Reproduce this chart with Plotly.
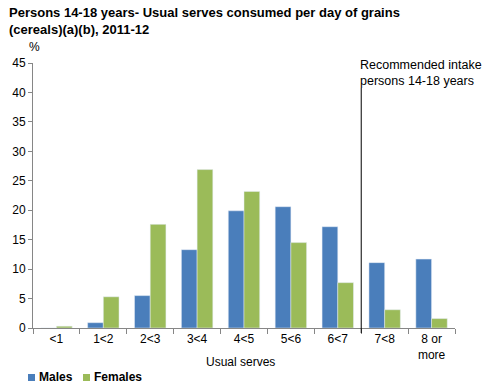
import plotly.graph_objects as go

# usual serves categories and % of persons
categories = ["<1", "1<2", "2<3", "3<4", "4<5", "5<6", "6<7", "7<8", "8 or<br>more"]
males = [0.0, 0.9, 5.5, 13.3, 19.9, 20.6, 17.2, 11.1, 11.7]
females = [0.3, 5.3, 17.6, 26.9, 23.2, 14.5, 7.7, 3.1, 1.6]
yticks = [0, 5, 10, 15, 20, 25, 30, 35, 40, 45]
series_colors = {"Males": "#4a7ebb", "Females": "#9bbb59"}

W, H = 483, 388
L, R, T, B = 33, 28, 63, 60
ph = H - T - B
pw = W - L - R

def py(p):
    # pixel row -> paper y
    return (H - B - p) / ph

def px_(p):
    return (p - L) / pw

FONT = "Liberation Sans, Arial"

fig = go.Figure()
fig.add_trace(go.Bar(x=categories, y=males, name="Males", marker_color=series_colors["Males"]))
fig.add_trace(go.Bar(x=categories, y=females, name="Females", marker_color=series_colors["Females"]))

fig.update_layout(
    width=W, height=H,
    margin=dict(l=L, r=R, t=T, b=B, autoexpand=False),
    plot_bgcolor="white", paper_bgcolor="white",
    bargap=0.33, bargroupgap=0,
    font=dict(family=FONT, size=12, color="#000"),
    showlegend=False,
)

fig.update_xaxes(
    range=[-0.5, len(categories) - 0.5], automargin=False,
    showline=True, linecolor="#868686", linewidth=1,
    ticks="outside", tickson="boundaries", ticklen=5, tickcolor="#868686",
    showgrid=False, tickfont=dict(size=12),
)
fig.update_yaxes(
    range=[0, 45], tickvals=yticks, automargin=False,
    showline=True, linecolor="#868686", linewidth=1,
    ticks="outside", ticklen=4, tickcolor="#868686", showgrid=False, zeroline=False,
    tickfont=dict(size=12),
)

# title
fig.add_annotation(xref="paper", yref="paper", x=px_(7), y=py(3),
                   text="<b>Persons 14-18 years- Usual serves consumed per day of grains<br>(cereals)(a)(b), 2011-12</b>",
                   showarrow=False, xanchor="left", yanchor="top", align="left",
                   font=dict(size=13))
# axis labels
fig.add_annotation(xref="paper", yref="paper", x=px_(27), y=py(47),
                   text="%", showarrow=False, xanchor="left", yanchor="middle")
fig.add_annotation(xref="paper", yref="paper", x=px_(240), y=py(362),
                   text="Usual serves", showarrow=False, xanchor="center", yanchor="middle")

# recommended intake divider between 6<7 and 7<8
fig.add_shape(type="line", xref="x", yref="paper", x0=6.5, x1=6.5,
              y0=py(333), y1=py(88), line=dict(color="#000", width=1))
fig.add_annotation(xref="x", yref="paper", x=6.5, y=py(73), xshift=-3,
                   text="Recommended intake<br>persons 14-18 years", showarrow=False,
                   xanchor="left", yanchor="middle", align="left",
                   font=dict(size=12.5))

# legend drawn by hand to keep the compact spacing
legend_x = {"Males": 28, "Females": 83}
for name, x0 in legend_x.items():
    fig.add_shape(type="rect", xref="paper", yref="paper",
                  x0=px_(x0), x1=px_(x0 + 7), y0=py(381), y1=py(374),
                  fillcolor=series_colors[name], line_width=0)
    fig.add_annotation(xref="paper", yref="paper", x=px_(x0 + 9), y=py(377),
                       text="<b>" + name + "</b>", showarrow=False,
                       xanchor="left", yanchor="middle")

# drop the browser's default body margin so the figure sits at the page corner
fig.write_html("out.html", config={"displayModeBar": False},
               post_script="document.body.style.margin='0';")
